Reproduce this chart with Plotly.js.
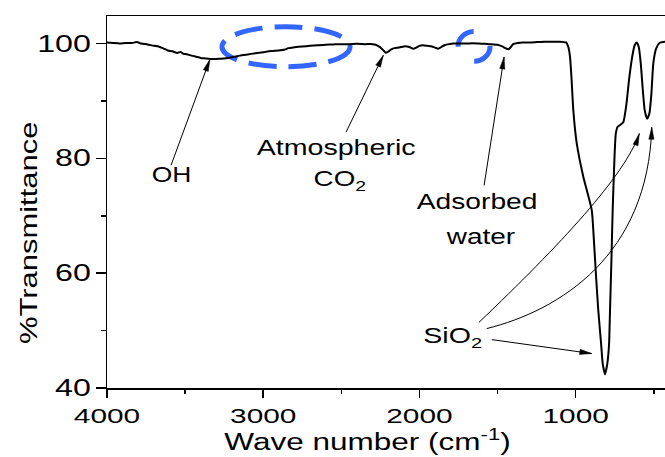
<!DOCTYPE html>
<html><head><meta charset="utf-8">
<script src="https://cdn.plot.ly/plotly-3.0.1.min.js"></script>
<style>
html,body{margin:0;padding:0;background:#fff}
</style></head><body><div id="chart" style="width:665px;height:457px"></div>
<script>
const wavenumber = [4000,3960,3920,3880,3840,3810,3780,3740,3700,3670,3640,3610,3580,3550,3530,3510,3490,3460,3430,3400,3370,3340,3310,3280,3250,3200,3150,3100,3050,3000,2950,2900,2860,2840,2800,2750,2700,2650,2600,2550,2500,2450,2400,2350,2300,2280,2260,2245,2230,2215,2200,2180,2160,2130,2100,2080,2060,2040,2020,2000,1980,1950,1920,1900,1880,1860,1840,1810,1780,1740,1700,1660,1620,1580,1540,1500,1470,1450,1430,1415,1400,1370,1340,1300,1250,1200,1150,1100,1075,1061,1047,1036,1027,1015,993,951,897,882,869,855,837,827,812,797,786,780,771,763,752,743,731,716,695,677,656,634,622,609,596,583,570,558,543,528,515,503,485,464,428];
const transmittance = [100.2,100.1,100.0,100.1,100.1,100.25,100.0,99.85,99.6,99.5,99.15,98.8,98.65,98.35,98.55,98.2,98.15,97.9,97.7,97.5,97.4,97.3,97.3,97.35,97.4,97.6,97.9,98.1,98.3,98.5,98.7,98.8,98.95,99.2,99.35,99.5,99.6,99.7,99.8,99.85,99.9,99.9,99.95,99.9,99.9,99.8,99.5,99.2,98.8,98.4,98.6,99.0,99.2,99.3,99.5,99.5,99.35,99.1,99.3,99.6,99.7,99.6,99.5,99.3,99.1,99.4,99.7,99.9,100.0,100.0,100.0,100.05,100.0,99.95,99.9,99.8,99.5,99.2,99.0,99.4,99.9,100.1,100.2,100.2,100.25,100.3,100.3,100.3,100.25,100.2,99.4,97.7,94.2,88.4,82.6,76.8,71.0,65.2,59.3,53.5,47.7,44.3,42.4,44.3,47.7,53.5,62.2,71.0,79.7,84.3,85.5,85.8,86.3,89.0,94.2,98.3,99.7,100.2,99.4,96.5,91.9,88.4,86.9,87.8,91.3,96.5,99.1,100.1,100.3];

const xTickVals = [4000, 3000, 2000, 1000];
const yTickVals = [40, 60, 80, 100];
const xTitle = 'Wave number (cm<sup>-1</sup>)';
const yTitle = '%Transmittance';

// label texts and positions (wavenumber, %T)
const labelTexts = ['OH', 'Atmospheric', 'CO<sub>2</sub>', 'Adsorbed', 'water', 'SiO<sub>2</sub>'];
const labelX = [3584, 2537, 2508, 1634, 1606, 1791];
const labelY = [77.2, 81.85, 76.3, 72.44, 66.43, 48.8];
const labelStretch = [1.2, 1.3, 1.26, 1.28, 1.27, 1.3];

// straight arrows: tail -> tip
const arrowTailX = [3590, 2470, 1586, 1537];
const arrowTailY = [78.8, 84.55, 75.3, 48.43];
const arrowTipX = [3341, 2231, 1458, 897];
const arrowTipY = [97.26, 97.96, 97.67, 46.0];
const arrowDir = [[39,-106],[37.3,-77],[20,-128.3],[100,14]];

// curved arrows (cubic bezier in data coords)
const curves = [
  {p0:[1618.5,51.45], p1:[1099.9,64.86], p2:[683.8,77.06], p3:[592.2,84.32], dir:[14,-42]},
  {p0:[1569.2,50.35], p1:[1099.9,53.54], p2:[536.5,63.12], p3:[512.8,85.42], dir:[3.7,-128]}
];

const ink = 'black';
const font = 'Liberation Sans, Arial, Helvetica, sans-serif';

function head(tx, ty, d) {
  const L = 12, w = 2.6;
  const n = Math.hypot(d[0], d[1]);
  const ux = d[0]/n, uy = d[1]/n;
  const bx = -L*ux, by = -L*uy;
  const p1x = bx - w*uy, p1y = by + w*ux;
  const p2x = bx + w*uy, p2y = by - w*ux;
  return {type:'path', xref:'x', yref:'y', xsizemode:'pixel', ysizemode:'pixel',
    xanchor: tx, yanchor: ty,
    path: `M0,0 L${p1x.toFixed(2)},${(-p1y).toFixed(2)} L${p2x.toFixed(2)},${(-p2y).toFixed(2)} Z`,
    fillcolor: ink, line:{color: ink, width: 0.5}};
}

const shapes = [
  {type:'circle', xref:'x', yref:'y', x0:3264, x1:2444, y0:95.96, y1:102.93, layer:'below',
   line:{color:'#3366ff', width:5, dash:'28px,12px'}},
  {type:'circle', xref:'x', yref:'y', x0:1753, x1:1548, y0:96.9, y1:102.1, layer:'below',
   line:{color:'#3366ff', width:5, dash:'24px,24px'}}
];
for (let i = 0; i < arrowTipX.length; i++) {
  shapes.push({type:'line', xref:'x', yref:'y', x0:arrowTailX[i], y0:arrowTailY[i], x1:arrowTipX[i], y1:arrowTipY[i], line:{color:ink, width:1}});
  shapes.push(head(arrowTipX[i], arrowTipY[i], arrowDir[i]));
}
curves.forEach(c => {
  shapes.push({type:'path', xref:'x', yref:'y',
    path:`M${c.p0[0]},${c.p0[1]} C${c.p1[0]},${c.p1[1]} ${c.p2[0]},${c.p2[1]} ${c.p3[0]},${c.p3[1]}`,
    line:{color:ink, width:1}});
  shapes.push(head(c.p3[0], c.p3[1], c.dir));
});

const annotations = labelTexts.map((t, i) => ({
  x: labelX[i], y: labelY[i], xref:'x', yref:'y', text: t, showarrow:false,
  xanchor:'center', yanchor:'middle', font:{family:font, size:22, color:ink}
}));
annotations.push({xref:'paper', yref:'paper', x:0.4677, y:-0.14, text:xTitle, showarrow:false,
  xanchor:'center', yanchor:'middle', font:{family:font, size:23, color:ink}});
annotations.push({xref:'paper', yref:'paper', x:-0.1416, y:0.419, text:yTitle, textangle:-90, showarrow:false,
  xanchor:'center', yanchor:'middle', font:{family:font, size:24, color:ink}});
const annStretch = labelStretch.concat([1.37, 1.29]);

const trace = {x: wavenumber, y: transmittance, type:'scatter', mode:'lines',
  line:{color:ink, width:2, shape:'spline', smoothing:0.5}, hoverinfo:'skip'};

const layout = {
  width:665, height:457,
  margin:{l:107, r:0, t:16, b:69},
  paper_bgcolor:'white', plot_bgcolor:'white', showlegend:false,
  font:{family:font, color:ink},
  xaxis:{range:[4000,428], autorange:false, tickmode:'array', tickvals:xTickVals,
    ticks:'outside', ticklen:8, tickwidth:1.5, tickcolor:ink,
    showline:true, linewidth:1.5, linecolor:ink, mirror:true,
    showgrid:false, zeroline:false, tickfont:{family:font, size:21, color:ink},
    minor:{dtick:500, tick0:0, ticks:'outside', ticklen:4, tickwidth:1.5, tickcolor:ink, showgrid:false}},
  yaxis:{range:[40,104.8], autorange:false, tickmode:'array', tickvals:yTickVals,
    ticks:'outside', ticklen:10, tickwidth:1.5, tickcolor:ink,
    showline:true, linewidth:1.5, linecolor:ink, mirror:false,
    showgrid:false, zeroline:false, tickfont:{family:font, size:23, color:ink},
    minor:{dtick:10, tick0:0, ticks:'outside', ticklen:5, tickwidth:1.5, tickcolor:ink, showgrid:false}},
  shapes: shapes,
  annotations: annotations
};

// the reference uses a wide rendering of the sans font: widen glyphs horizontally
function widen(el, f) {
  const w = el.getComputedTextLength();
  if (w > 0) {
    el.setAttribute('textLength', (w * f).toFixed(1));
    el.setAttribute('lengthAdjust', 'spacingAndGlyphs');
  }
}

Plotly.newPlot('chart', [trace], layout, {staticPlot:true, displayModeBar:false}).then(() => {
  document.querySelectorAll('.xtick text').forEach(t => widen(t, 1.42));
  document.querySelectorAll('.ytick text').forEach(t => widen(t, 1.4));
  annStretch.forEach((f, i) => {
    const t = document.querySelector(`.annotation[data-index="${i}"] .annotation-text`);
    if (t) widen(t, f);
  });
});
</script></body></html>
